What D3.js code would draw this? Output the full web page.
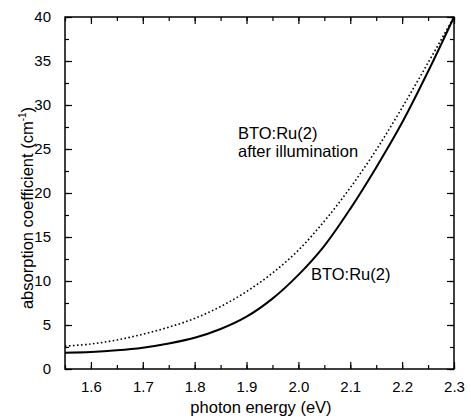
<!DOCTYPE html>
<html><head><meta charset="utf-8">
<script src="https://cdn.jsdelivr.net/npm/d3@7"></script>
<style>body{margin:0;background:#fff;} svg{display:block;} text{font-family:"Liberation Sans",Arial,sans-serif;fill:#000;}</style>
</head><body><svg id="c" width="471" height="420"></svg>
<script>
const energy = [1.55,1.60,1.65,1.70,1.75,1.80,1.85,1.90,1.95,2.00,2.05,2.10,2.15,2.20,2.25,2.30];
const beforeIllum = [1.85,1.93,2.12,2.42,2.9,3.55,4.55,5.95,8.0,10.7,14.0,18.2,22.9,28.0,33.8,40.0];
const afterIllum = [2.6,2.84,3.3,3.95,4.75,5.75,7.1,8.8,10.9,13.5,16.8,20.6,24.9,29.7,34.8,40.0];
const xTicks = [1.6,1.7,1.8,1.9,2.0,2.1,2.2,2.3];
const yTicks = [0,5,10,15,20,25,30,35,40];
const labels = ["BTO:Ru(2)", "after illumination", "BTO:Ru(2)"];

const svg = d3.select("#c");
const L=65, R=454, T=17, B=369;
const x = d3.scaleLinear().domain([1.55,2.3]).range([L,R]);
const y = d3.scaleLinear().domain([0,40]).range([B,T]);

const g = svg.append("g");
const xMinor = d3.range(1.55,2.301,0.05);
const yMinor = d3.range(0,40.01,2.5);

// bottom
g.append("g").attr("transform",`translate(0,${B})`)
 .call(d3.axisBottom(x).tickValues(xMinor).tickSize(-4).tickFormat(""))
 .call(s=>s.select(".domain").remove());
g.append("g").attr("transform",`translate(0,${B})`)
 .call(d3.axisBottom(x).tickValues(xTicks).tickSize(-7).tickPadding(12).tickFormat(d3.format(".1f")))
 .call(s=>s.select(".domain").remove())
 .call(s=>s.selectAll("text").attr("font-size",15).attr("dy","0.71em").attr("fill","#000"));
// top
g.append("g").attr("transform",`translate(0,${T})`)
 .call(d3.axisTop(x).tickValues(xMinor).tickSize(-4).tickFormat(""))
 .call(s=>s.select(".domain").remove());
g.append("g").attr("transform",`translate(0,${T})`)
 .call(d3.axisTop(x).tickValues(xTicks).tickSize(-7).tickFormat(""))
 .call(s=>s.select(".domain").remove());
// left
g.append("g").attr("transform",`translate(${L},0)`)
 .call(d3.axisLeft(y).tickValues(yMinor).tickSize(-4).tickFormat(""))
 .call(s=>s.select(".domain").remove());
g.append("g").attr("transform",`translate(${L},0)`)
 .call(d3.axisLeft(y).tickValues(yTicks).tickSize(-7).tickPadding(14).tickFormat(d3.format("d")))
 .call(s=>s.select(".domain").remove())
 .call(s=>s.selectAll("text").attr("font-size",15).attr("fill","#000"));
// right
g.append("g").attr("transform",`translate(${R},0)`)
 .call(d3.axisRight(y).tickValues(yMinor).tickSize(-4).tickFormat(""))
 .call(s=>s.select(".domain").remove());
g.append("g").attr("transform",`translate(${R},0)`)
 .call(d3.axisRight(y).tickValues(yTicks).tickSize(-7).tickFormat(""))
 .call(s=>s.select(".domain").remove());
g.selectAll(".tick line").attr("stroke","#000").attr("stroke-width",1.2);

g.append("rect").attr("x",L).attr("y",T).attr("width",R-L).attr("height",B-T)
 .attr("fill","none").attr("stroke","#000").attr("stroke-width",1.5);

const line = d3.line().curve(d3.curveCatmullRom.alpha(0.5)).x((d,i)=>x(energy[i])).y(d=>y(d));
g.append("path").datum(afterIllum).attr("d",line).attr("fill","none")
 .attr("stroke","#000").attr("stroke-width",1.6).attr("stroke-dasharray","1.6,2.4");
g.append("path").datum(beforeIllum).attr("d",line).attr("fill","none")
 .attr("stroke","#000").attr("stroke-width",2);

g.append("text").attr("x",238).attr("y",139).attr("font-size",16.5).text(labels[0]);
g.append("text").attr("x",238).attr("y",157).attr("font-size",16.5).text(labels[1]);
g.append("text").attr("x",311).attr("y",280).attr("font-size",16.5).text(labels[2]);

svg.append("text").attr("x",261).attr("y",413).attr("text-anchor","middle").attr("font-size",16.5).text("photon energy (eV)");
const yl = svg.append("text").attr("transform","translate(33,208) rotate(-90)").attr("text-anchor","middle").attr("font-size",16.5);
yl.append("tspan").text("absorption coefficient  (cm");
yl.append("tspan").attr("font-size",10).attr("dy",-7).text("-1");
yl.append("tspan").attr("dy",7).text(")");
</script></body></html>
